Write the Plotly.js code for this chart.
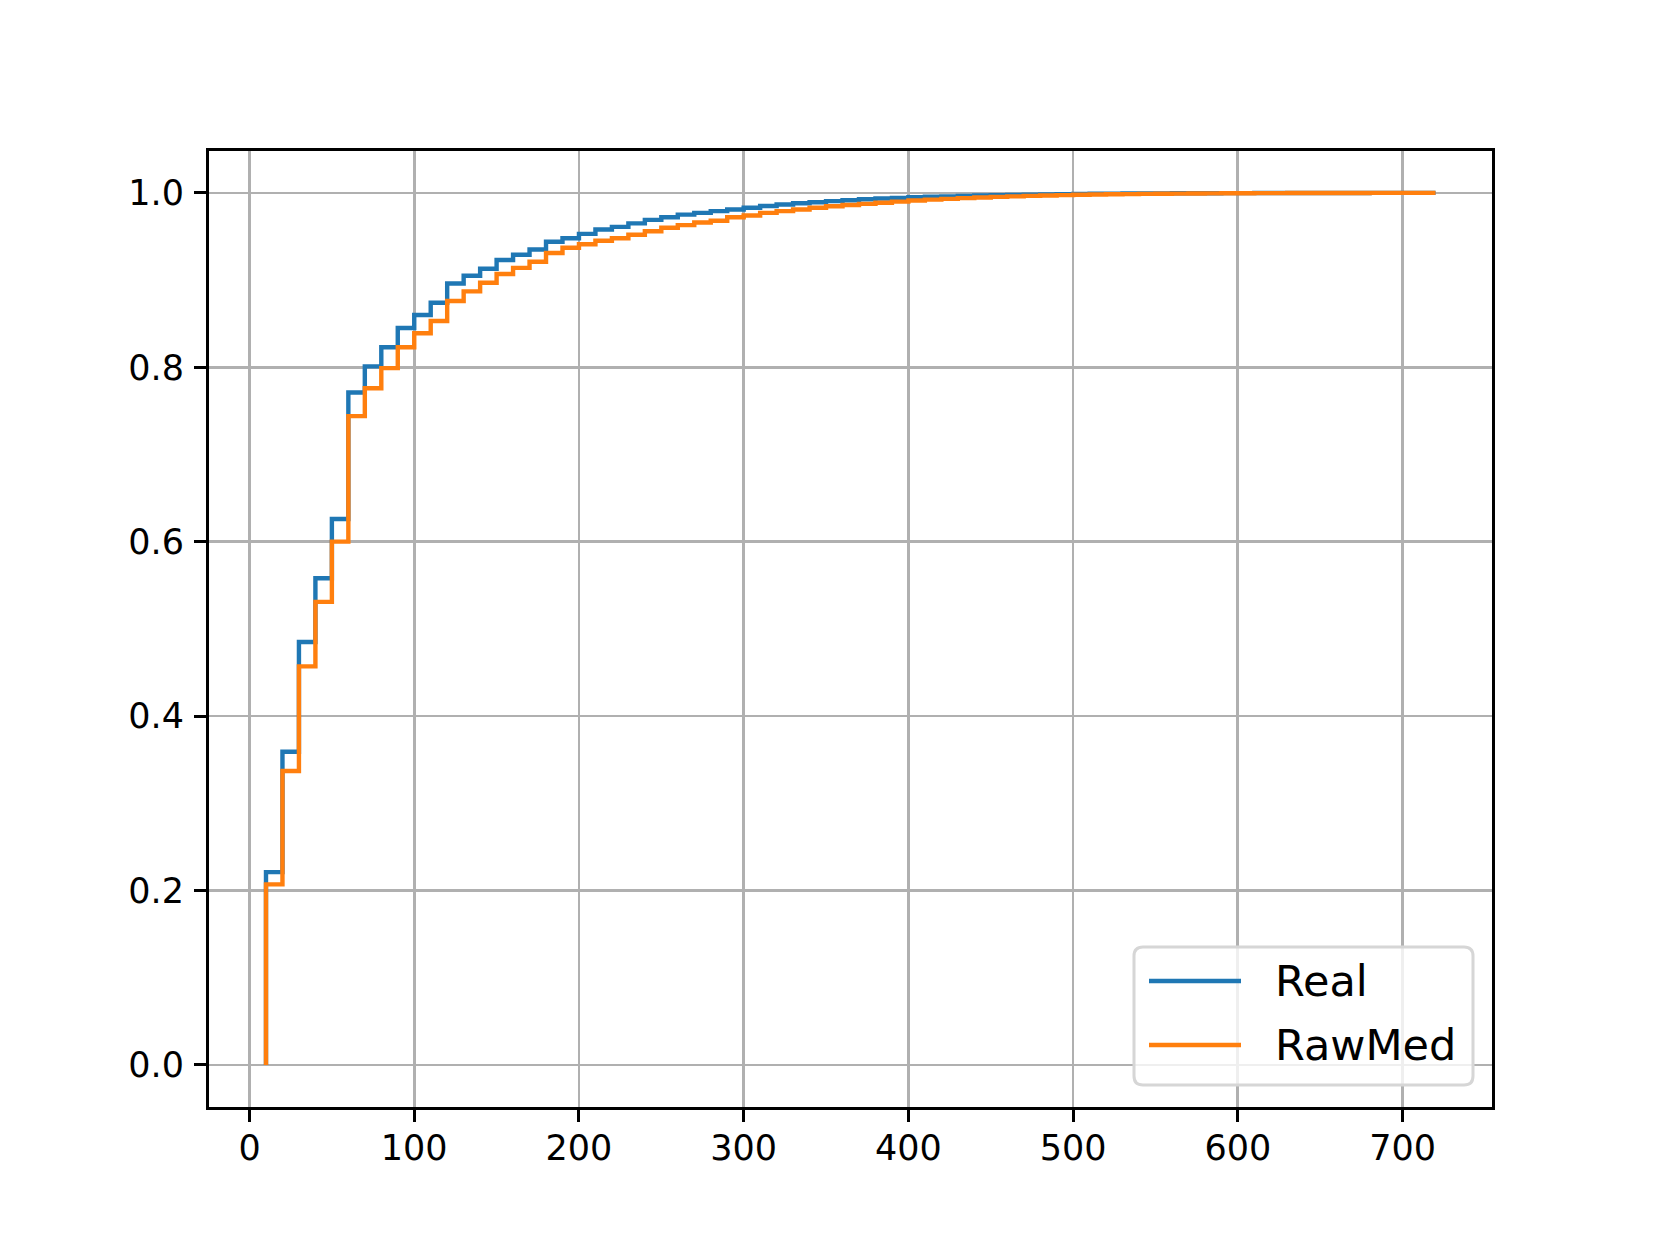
<!DOCTYPE html>
<html>
<head>
<meta charset="utf-8">
<script src="https://cdn.plot.ly/plotly-3.0.1.min.js"></script>
<style>
  body { margin: 0; background: #fff; }
  #plot { width: 1660px; height: 1245px; }
</style>
</head>
<body>
<div id="plot"></div>
<script>
// valeurs (CDF en escalier, pas de 10)
const xSteps = [10, 20, 30, 40, 50, 60, 70, 80, 90, 100,
    110, 120, 130, 140, 150, 160, 170, 180, 190, 200,
    210, 220, 230, 240, 250, 260, 270, 280, 290, 300,
    310, 320, 330, 340, 350, 360, 370, 380, 390, 400,
    410, 420, 430, 440, 450, 460, 470, 480, 490, 500,
    510, 520, 530, 540, 550, 560, 570, 580, 590, 600,
    610, 620, 630, 640, 650, 660, 670, 680, 690, 700,
    710, 720];

const realCdf = [0.221, 0.359, 0.485, 0.558, 0.626, 0.771, 0.801, 0.823, 0.845, 0.860,
    0.874, 0.896, 0.905, 0.913, 0.923, 0.929, 0.935, 0.944, 0.948, 0.953,
    0.958, 0.961, 0.965, 0.969, 0.972, 0.975, 0.977, 0.979, 0.981, 0.983,
    0.985, 0.9866, 0.988, 0.9893, 0.9905, 0.9916, 0.9926, 0.9935, 0.9942, 0.9949,
    0.9955, 0.996, 0.9965, 0.9969, 0.9973, 0.9977, 0.998, 0.9983, 0.9986, 0.9988,
    0.999, 0.9991, 0.9992, 0.9993, 0.9994, 0.9995, 0.9996, 0.9996, 0.9997, 0.9997,
    0.9998, 0.9998, 0.9998, 0.9999, 0.9999, 0.9999, 0.9999, 1.0, 1.0, 1.0,
    1.0, 1.0];

const rawMedCdf = [0.207, 0.337, 0.457, 0.531, 0.600, 0.744, 0.776, 0.799, 0.823, 0.839,
    0.853, 0.876, 0.887, 0.897, 0.907, 0.914, 0.921, 0.931, 0.937, 0.941,
    0.945, 0.948, 0.952, 0.956, 0.960, 0.963, 0.966, 0.968, 0.972, 0.974,
    0.977, 0.979, 0.981, 0.983, 0.9846, 0.986, 0.9874, 0.9887, 0.990, 0.9912,
    0.9922, 0.9931, 0.994, 0.9947, 0.9954, 0.996, 0.9965, 0.997, 0.9974, 0.9978,
    0.9981, 0.9984, 0.9986, 0.9988, 0.999, 0.9991, 0.9993, 0.9994, 0.9995, 0.9996,
    0.9997, 0.9997, 0.9998, 0.9998, 0.9999, 0.9999, 0.9999, 1.0, 1.0, 1.0,
    1.0, 1.0];

const seriesNames = ['Real', 'RawMed'];
const seriesColors = ['#1f77b4', '#ff7f0e'];
const xTicks = [0, 100, 200, 300, 400, 500, 600, 700];
const yTicks = [0.0, 0.2, 0.4, 0.6, 0.8, 1.0];

const FONT = 'DejaVu Sans, sans-serif';
const LINE_W = 4.4;

// marges (px)
const W = 1660, H = 1245;
const M = { l: 209, r: 168, t: 151, b: 138 };
const plotW = W - M.l - M.r, plotH = H - M.t - M.b;
const px2x = px => (px - M.l) / plotW;
const px2y = py => (H - M.b - py) / plotH;

// escalier "post" : on part de (x0, 0)
function stepTrace(ys, name, color) {
    return {
        x: [xSteps[0], ...xSteps],
        y: [0, ...ys],
        type: 'scatter', mode: 'lines', name: name,
        line: { color: color, width: LINE_W, shape: 'hv' }
    };
}

const traces = [
    stepTrace(realCdf, seriesNames[0], seriesColors[0]),
    stepTrace(rawMedCdf, seriesNames[1], seriesColors[1])
];

// légende façon matplotlib (boîte arrondie, trait long)
const box = { x0: 1134, x1: 1473, y0: 947, y1: 1085, r: 9 };
function roundedBoxPath(b) {
    const X = px2x, Y = px2y, r = b.r;
    return `M ${X(b.x0 + r)} ${Y(b.y0)} L ${X(b.x1 - r)} ${Y(b.y0)} ` +
        `Q ${X(b.x1)} ${Y(b.y0)} ${X(b.x1)} ${Y(b.y0 + r)} ` +
        `L ${X(b.x1)} ${Y(b.y1 - r)} Q ${X(b.x1)} ${Y(b.y1)} ${X(b.x1 - r)} ${Y(b.y1)} ` +
        `L ${X(b.x0 + r)} ${Y(b.y1)} Q ${X(b.x0)} ${Y(b.y1)} ${X(b.x0)} ${Y(b.y1 - r)} ` +
        `L ${X(b.x0)} ${Y(b.y0 + r)} Q ${X(b.x0)} ${Y(b.y0)} ${X(b.x0 + r)} ${Y(b.y0)} Z`;
}
const legendRows = [981, 1045];

const shapes = [{
    type: 'path', xref: 'paper', yref: 'paper', path: roundedBoxPath(box),
    fillcolor: 'rgba(255,255,255,0.8)', line: { color: '#d6d6d6', width: 3 }
}];
const annotations = [];
seriesNames.forEach((name, i) => {
    shapes.push({
        type: 'line', xref: 'paper', yref: 'paper',
        x0: px2x(1149), x1: px2x(1241), y0: px2y(legendRows[i]), y1: px2y(legendRows[i]),
        line: { color: seriesColors[i], width: LINE_W }
    });
    annotations.push({
        xref: 'paper', yref: 'paper', x: px2x(1273), y: px2y(legendRows[i]),
        xanchor: 'left', yanchor: 'middle', showarrow: false, text: name,
        font: { family: FONT, size: 43, color: '#000' }
    });
});

const axisCommon = {
    showline: true, linecolor: '#000', linewidth: 3, mirror: true,
    ticks: 'outside', ticklen: 12, tickwidth: 3, tickcolor: '#000',
    showgrid: true, gridcolor: '#b0b0b0', gridwidth: 2.7,
    zeroline: false,
    tickfont: { family: FONT, size: 35, color: '#000' }
};

const layout = {
    width: W, height: H,
    margin: M,
    paper_bgcolor: '#fff', plot_bgcolor: '#fff',
    font: { family: FONT },
    // plages ajustées pour que les axes (tracés hors zone) tombent sur ceux de la référence
    xaxis: { ...axisCommon, range: [-24.6, 754.3], tickvals: xTicks, ticktext: xTicks.map(String), ticklabelstandoff: -4 },
    yaxis: { ...axisCommon, range: [-0.0483, 1.048], tickvals: yTicks, ticktext: yTicks.map(v => v.toFixed(1)), ticklabelstandoff: 3 },
    showlegend: false,
    shapes: shapes,
    annotations: annotations
};

Plotly.newPlot('plot', traces, layout, { staticPlot: true });
</script>
</body>
</html>
